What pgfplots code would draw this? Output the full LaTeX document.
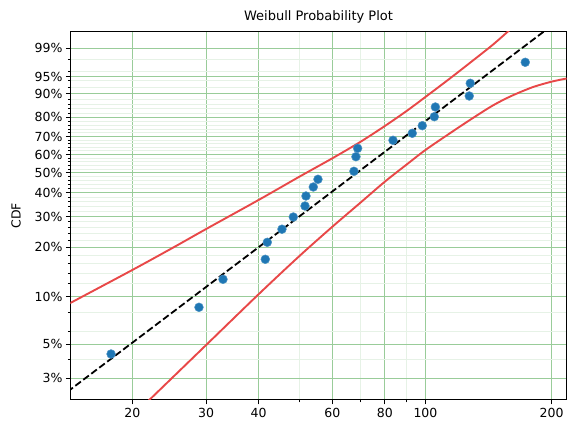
\documentclass[border=0pt]{standalone}
\usepackage{fontspec}
\setmainfont{DejaVu Sans}
\usepackage{pgfplots}
\pgfplotsset{compat=1.18}
\definecolor{mplblue}{HTML}{1F77B4}
\definecolor{cired}{RGB}{232,72,72}
\definecolor{gmaj}{RGB}{153,204,153}
\definecolor{gmin}{RGB}{230,242,230}
\begin{document}
\begin{tikzpicture}
\path[use as bounding box] (-70.3pt,-34pt) rectangle (505.7pt,400pt);
\begin{axis}[
  at={(0,0)}, anchor=south west,
  scale only axis, width=496.4pt, height=368.3pt,
  xmode=log, xmin=14.23, xmax=217.2, ymin=-3.821, ymax=1.7796,
  xtick={20,30,40,60,80,100,200},
  xticklabels={20,30,40,60,80,100,200},
  minor xtick={50,70,90},
  ytick={-3.4913,-2.9702,-2.2504,-1.4999,-1.0309,-0.6717,-0.3665,-0.0874,0.1856,0.4759,0.8340,1.0972,1.5272},
  yticklabels={3\%,5\%,10\%,20\%,30\%,40\%,50\%,60\%,70\%,80\%,90\%,95\%,99\%},
  minor ytick={-3.1985,-2.7827,-2.4843,-2.0570,-1.8917,-1.7467,-1.6172,-1.3925,-1.2931,-1.2003,-1.1132,-0.9528,-0.8783,-0.8068,-0.7381,-0.6075,-0.5450,-0.4842,-0.4248,-0.3093,-0.2530,-0.1973,-0.1422,-0.0330,0.0214,0.0759,0.1305,0.2413,0.2979,0.3557,0.4148,0.5393,0.6057,0.6761,0.7515,0.9265,1.0344,1.1690,1.3641},
  grid=both,
  major grid style={draw=gmaj, line width=1pt},
  minor grid style={draw=gmin, line width=1pt},
  tick align=outside, tick pos=left,
  major tick length=4.4pt, minor tick length=2.5pt,
  every tick/.style={black, line width=1pt},
  axis line style={line width=1pt},
  /pgf/number format/assume math mode=true,
  tick label style={font=\fontsize{12.5}{15}\selectfont},
  label style={font=\fontsize{12.5}{15}\selectfont},
  title={Weibull Probability Plot},
  title style={font=\fontsize{13}{16}\selectfont, at={(axis description cs:0.5,1)}, anchor=base, yshift=5pt},
  ylabel={CDF},
  ylabel style={at={(axis description cs:-0.1094,0.5)}, anchor=center},
]
\addplot[cired, line width=1.9pt, smooth, tension=0.5] coordinates {
(14.0,-2.37) (20,-1.8442) (25,-1.505) (30,-1.2207) (40,-0.7797) (50,-0.427) (60,-0.145)
(70,0.105) (80,0.345) (90,0.57) (100,0.787) (115,1.08) (130,1.345) (145,1.585) (160,1.825) (170,1.98)};
\addplot[cired, line width=1.9pt, smooth, tension=0.5] coordinates {
(21.0,-3.94) (25,-3.473) (30,-2.9847) (40,-2.2137) (50,-1.635) (60,-1.1857) (70,-0.82)
(80,-0.5014) (90,-0.245) (100,-0.0193) (115,0.245) (130,0.47) (145,0.66) (160,0.80)
(180,0.935) (200,1.02) (217.2,1.068) (225,1.085)};
\addplot[black, line width=1.8pt, dash pattern=on 7pt off 3pt] coordinates {
(14,-3.697) (220,2.071)};
\addplot[only marks, mark=*, mark size=4.4pt, mark options={fill=mplblue, draw=mplblue!80!white, line width=0.5pt}] coordinates {
(17.80,-3.1215) (28.84,-2.4114) (32.91,-1.9856) (41.51,-1.6814) (41.97,-1.4229)
(45.49,-1.2237) (48.41,-1.0382) (51.62,-0.8709) (51.90,-0.7189) (54.03,-0.5820)
(55.43,-0.4649) (67.53,-0.3432) (68.28,-0.1212) (68.92,0.0065) (83.69,0.1282)
(93.03,0.2346) (98.29,0.3502) (105.0,0.4871) (105.6,0.6346) (127.2,0.8018)
(127.9,0.9950) (173.0,1.3143)};
\end{axis}
\end{tikzpicture}
\end{document}
